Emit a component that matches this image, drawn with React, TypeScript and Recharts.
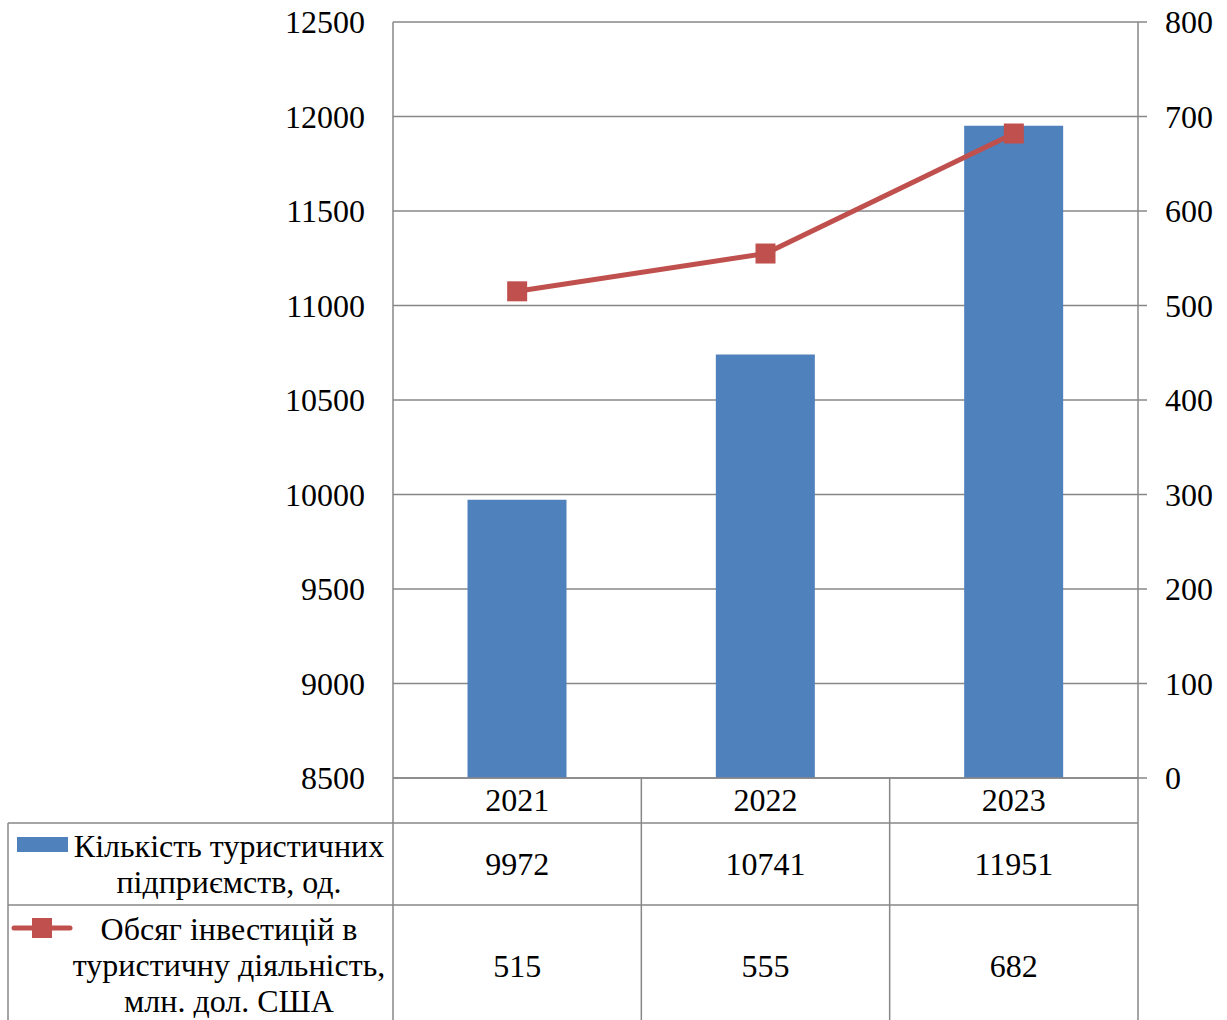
import React from 'react';
import { Bar, CartesianGrid, ComposedChart, Line, XAxis, YAxis } from 'recharts';

const years = ['2021', '2022', '2023'];
const enterprises = [9972, 10741, 11951];
const investments = [515, 555, 682];
const leftTicks = [8500, 9000, 9500, 10000, 10500, 11000, 11500, 12000, 12500];
const rightTicks = [0, 100, 200, 300, 400, 500, 600, 700, 800];
const enterprisesLabel = ['Кількість туристичних', 'підприємств, од.'];
const investmentsLabel = ['Обсяг інвестицій в', 'туристичну діяльність,', 'млн. дол. США'];

const data = years.map((year, i) => ({
  year,
  enterprises: enterprises[i],
  investments: investments[i],
}));

const W = 1227;
const H = 1020;
const LEFT_W = 393;
const RIGHT_W = 89;
const X_AXIS_H = 242;
const AXIS_Y = H - X_AXIS_H;
const COL_W = (W - LEFT_W - RIGHT_W) / years.length;
const GRID = '#878787';
const BLUE = '#4F81BD';
const RED = '#C0504D';
const FONT = 'Liberation Serif';

const ROW1 = AXIS_Y + 45;
const ROW2 = AXIS_Y + 127;

const txt = { fontFamily: FONT, fontSize: 32, fill: '#000' };

// data table drawn under each category
const TableTick = (props: any) => {
  const { x, payload, index } = props;
  const half = COL_W / 2;
  const i = years.indexOf(payload.value);
  return (
    <g>
      <line x1={x + half} x2={x + half} y1={AXIS_Y} y2={H} stroke={GRID} strokeWidth={1.5} />
      <line x1={x - half} x2={x + half} y1={ROW1} y2={ROW1} stroke={GRID} strokeWidth={1.5} />
      <line x1={x - half} x2={x + half} y1={ROW2} y2={ROW2} stroke={GRID} strokeWidth={1.5} />
      <text x={x} y={AXIS_Y + 33} textAnchor="middle" style={txt}>{payload.value}</text>
      <text x={x} y={AXIS_Y + 97} textAnchor="middle" style={txt}>{enterprises[i]}</text>
      <text x={x} y={AXIS_Y + 199} textAnchor="middle" style={txt}>{investments[i]}</text>
      {index === 0 && (
        <g>
          <line x1={x - half} x2={x - half} y1={AXIS_Y} y2={H} stroke={GRID} strokeWidth={1.5} />
          <line x1={8} x2={x - half} y1={ROW1} y2={ROW1} stroke={GRID} strokeWidth={1.5} />
          <line x1={8} x2={x - half} y1={ROW2} y2={ROW2} stroke={GRID} strokeWidth={1.5} />
          <line x1={8} x2={8} y1={ROW1} y2={H} stroke={GRID} strokeWidth={1.5} />
          <rect x={17} y={ROW1 + 14} width={51} height={15} fill={BLUE} />
          {enterprisesLabel.map((s, k) => (
            <text key={s} x={229} y={ROW1 + 34 + k * 36} textAnchor="middle" style={txt}>{s}</text>
          ))}
          <line x1={14} x2={70} y1={ROW2 + 23} y2={ROW2 + 23} stroke={RED} strokeWidth={5} strokeLinecap="round" />
          <rect x={32} y={ROW2 + 13} width={20} height={20} fill={RED} />
          {investmentsLabel.map((s, k) => (
            <text key={s} x={229} y={ROW2 + 35 + k * 36} textAnchor="middle" style={txt}>{s}</text>
          ))}
        </g>
      )}
    </g>
  );
};

const SquareDot = (props: any) => {
  const { cx, cy } = props;
  if (cx == null || cy == null) return null;
  return <rect x={cx - 10} y={cy - 10} width={20} height={20} fill={RED} />;
};

export default function App() {
  return (
    <div style={{ position: 'absolute', left: 0, top: 0, width: W, height: H, background: '#fff', fontFamily: FONT }}>
      <ComposedChart
        width={W}
        height={H}
        data={data}
        margin={{ top: 22, right: 0, left: 0, bottom: 0 }}
        barCategoryGap="30%"
      >
        <CartesianGrid yAxisId="left" vertical={false} stroke={GRID} strokeWidth={1.5} />
        <XAxis
          dataKey="year"
          height={X_AXIS_H}
          interval={0}
          axisLine={{ stroke: GRID, strokeWidth: 1.5 }}
          tickLine={false}
          tick={<TableTick />}
        />
        <YAxis
          yAxisId="left"
          width={LEFT_W}
          domain={[8500, 12500]}
          ticks={leftTicks}
          allowDataOverflow
          axisLine={{ stroke: GRID, strokeWidth: 1.5 }}
          tickLine={false}
          tickSize={0}
          tickMargin={28}
          tick={txt}
        />
        <YAxis
          yAxisId="right"
          orientation="right"
          width={RIGHT_W}
          domain={[0, 800]}
          ticks={rightTicks}
          axisLine={{ stroke: GRID, strokeWidth: 1.5 }}
          tickLine={{ stroke: GRID, strokeWidth: 1.5 }}
          tickSize={9}
          tickMargin={18}
          tick={{ ...txt, textAnchor: 'start' }}
        />
        <Bar yAxisId="left" dataKey="enterprises" fill={BLUE} isAnimationActive={false} />
        <Line
          yAxisId="right"
          dataKey="investments"
          stroke={RED}
          strokeWidth={5}
          dot={<SquareDot />}
          activeDot={false}
          isAnimationActive={false}
        />
      </ComposedChart>
    </div>
  );
}
